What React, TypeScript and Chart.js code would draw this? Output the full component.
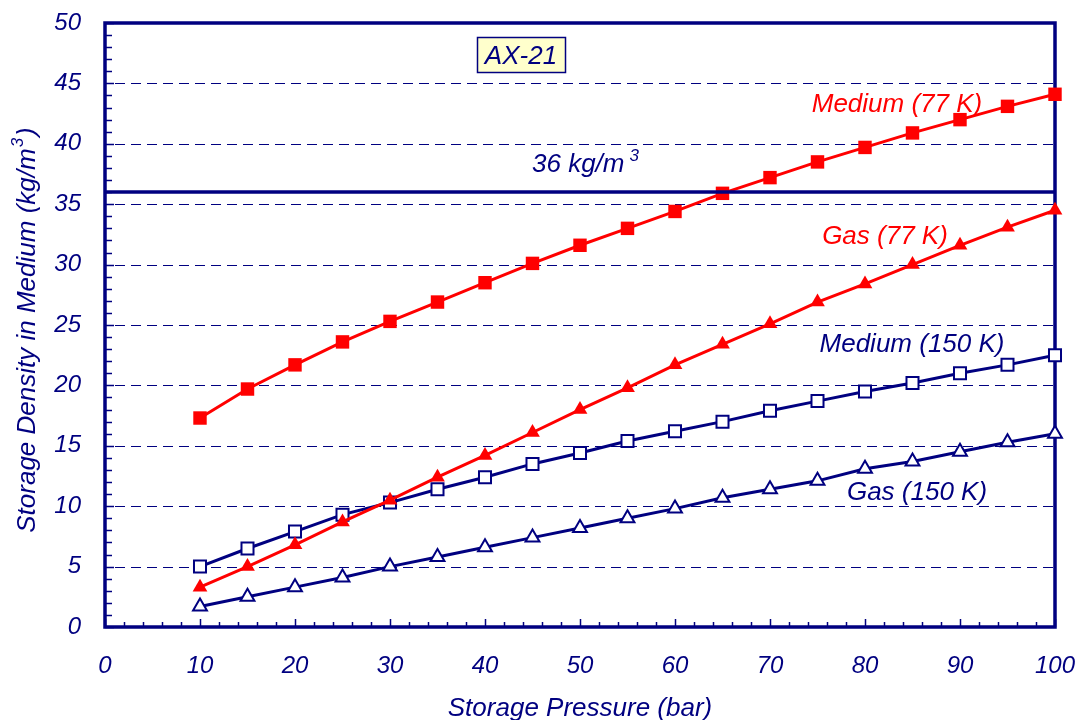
import React, { useEffect, useRef } from "react";
import { Chart, registerables } from "chart.js";

Chart.register(...registerables);

// ---- data ----
const pressures = [10, 15, 20, 25, 30, 35, 40, 45, 50, 55, 60, 65, 70, 75, 80, 85, 90, 95, 100];
const medium77 = [17.3, 19.7, 21.7, 23.6, 25.3, 26.9, 28.5, 30.1, 31.6, 33.0, 34.4, 35.9, 37.2, 38.5, 39.7, 40.9, 42.0, 43.1, 44.1];
const gas77 = [3.3, 5.0, 6.8, 8.7, 10.5, 12.4, 14.2, 16.1, 18.0, 19.8, 21.7, 23.4, 25.1, 26.9, 28.4, 30.0, 31.6, 33.1, 34.5];
const medium150 = [5.0, 6.5, 7.9, 9.3, 10.3, 11.4, 12.4, 13.5, 14.4, 15.4, 16.2, 17.0, 17.9, 18.7, 19.5, 20.2, 21.0, 21.7, 22.5];
const gas150 = [1.7, 2.5, 3.3, 4.1, 5.0, 5.8, 6.6, 7.4, 8.2, 9.0, 9.8, 10.7, 11.4, 12.1, 13.1, 13.7, 14.5, 15.3, 16.0];
const targetDensity = 36;
const targetRange = [0, 100];

const seriesNames = ["Medium (77 K)", "Gas (77 K)", "Medium (150 K)", "Gas (150 K)"];
const materialLabel = "AX-21";
const targetLabel = "36 kg/m";
const xTitle = "Storage Pressure (bar)";
const yTitle = "Storage Density in Medium (kg/m";

const xMin = 0, xMax = 100, xStep = 10;
const yMin = 0, yMax = 50, yStep = 5;

const NAVY = "#000080";
const RED = "#ff0000";
const FONT = "'Liberation Sans', Arial, Helvetica, sans-serif";

const toXY = (vals: number[]) => vals.map((v, i) => ({ x: pressures[i], y: v }));

const decor = {
  id: "decor",
  beforeDatasetsDraw(chart: any) {
    const { ctx, chartArea: a, scales } = chart;
    const x = scales.x, y = scales.y;
    ctx.save();
    // dashed horizontal grid
    ctx.strokeStyle = NAVY;
    ctx.lineWidth = 1;
    ctx.setLineDash([10, 6]);
    for (let v = yMin + yStep; v < yMax; v += yStep) {
      const py = Math.round(y.getPixelForValue(v)) + 0.5;
      ctx.beginPath();
      ctx.moveTo(a.left + 10, py);
      ctx.lineTo(a.right, py);
      ctx.stroke();
    }
    ctx.setLineDash([]);
    // inward ticks on left axis
    ctx.lineWidth = 1.5;
    for (let v = yMin; v <= yMax; v += 1) {
      const py = Math.round(y.getPixelForValue(v)) + 0.5;
      const len = v % yStep === 0 ? 9 : 7;
      ctx.beginPath();
      ctx.moveTo(a.left, py);
      ctx.lineTo(a.left + len, py);
      ctx.stroke();
    }
    // inward ticks on bottom axis
    for (let v = xMin; v <= xMax; v += 2) {
      const px = Math.round(x.getPixelForValue(v)) + 0.5;
      const len = v % xStep === 0 ? 8 : 5;
      ctx.beginPath();
      ctx.moveTo(px, a.bottom);
      ctx.lineTo(px, a.bottom - len);
      ctx.stroke();
    }
    // frame
    ctx.lineWidth = 3.5;
    ctx.strokeRect(a.left, a.top, a.right - a.left, a.bottom - a.top);

    // AX-21 box
    ctx.fillStyle = "#ffffcc";
    ctx.fillRect(477, 37, 89, 36);
    ctx.lineWidth = 1.5;
    ctx.strokeStyle = NAVY;
    ctx.strokeRect(477.5, 37.5, 88, 35);
    ctx.fillStyle = NAVY;
    ctx.font = `italic 26px ${FONT}`;
    ctx.textAlign = "center";
    ctx.textBaseline = "alphabetic";
    ctx.fillText(materialLabel, 521, 64);
    ctx.restore();
  },
  afterDatasetsDraw(chart: any) {
    const { ctx, chartArea: a } = chart;
    ctx.save();
    ctx.textBaseline = "alphabetic";
    ctx.font = `italic 26px ${FONT}`;
    // 36 kg/m3
    ctx.fillStyle = NAVY;
    ctx.textAlign = "left";
    ctx.fillText(targetLabel, 532, 172);
    const w = ctx.measureText(targetLabel).width;
    ctx.font = `italic 17px ${FONT}`;
    ctx.fillText("3", 532 + w + 5, 161);
    // series labels
    ctx.font = `italic 26px ${FONT}`;
    ctx.textAlign = "center";
    ctx.fillStyle = RED;
    ctx.fillText(seriesNames[0], 897, 112);
    ctx.fillText(seriesNames[1], 885, 244);
    ctx.fillStyle = NAVY;
    ctx.fillText(seriesNames[2], 912, 352);
    ctx.fillText(seriesNames[3], 917, 500);
    // x title
    ctx.fillText(xTitle, (a.left + a.right) / 2, 716);
    // y title (rotated, with superscript)
    ctx.translate(28, 330);
    ctx.rotate(-Math.PI / 2);
    ctx.textAlign = "left";
    ctx.textBaseline = "middle";
    ctx.font = `italic 26px ${FONT}`;
    const w1 = ctx.measureText(yTitle).width;
    const w3 = ctx.measureText(")").width;
    ctx.font = `italic 17px ${FONT}`;
    const w2 = ctx.measureText("3").width + 3;
    const total = w1 + w2 + w3;
    let sx = -total / 2;
    ctx.font = `italic 26px ${FONT}`;
    ctx.fillText(yTitle, sx, 0);
    sx += w1;
    ctx.font = `italic 17px ${FONT}`;
    ctx.fillText("3", sx + 1, -10);
    sx += w2;
    ctx.font = `italic 26px ${FONT}`;
    ctx.fillText(")", sx, 0);
    ctx.restore();
  },
};

export default function App() {
  const ref = useRef<HTMLCanvasElement | null>(null);
  useEffect(() => {
    if (!ref.current) return;
    const chart = new Chart(ref.current, {
      type: "line",
      data: {
        datasets: [
          {
            label: "36 kg/m3",
            data: targetRange.map((p) => ({ x: p, y: targetDensity })),
            borderColor: NAVY,
            borderWidth: 3.5,
            pointRadius: 0,
            clip: false,
          },
          {
            label: seriesNames[0],
            data: toXY(medium77),
            borderColor: RED,
            backgroundColor: RED,
            borderWidth: 3,
            pointStyle: "rect",
            pointRadius: 9.5,
            pointBorderWidth: 0,
            pointBackgroundColor: RED,
            clip: false,
          },
          {
            label: seriesNames[1],
            data: toXY(gas77),
            borderColor: RED,
            backgroundColor: RED,
            borderWidth: 3,
            pointStyle: "triangle",
            pointRadius: 8.5,
            pointBorderWidth: 0,
            pointBackgroundColor: RED,
            clip: false,
          },
          {
            label: seriesNames[2],
            data: toXY(medium150),
            borderColor: NAVY,
            borderWidth: 3,
            pointStyle: "rect",
            pointRadius: 8.5,
            pointBorderWidth: 2,
            pointBorderColor: NAVY,
            pointBackgroundColor: "#ffffff",
            clip: false,
          },
          {
            label: seriesNames[3],
            data: toXY(gas150),
            borderColor: NAVY,
            borderWidth: 3,
            pointStyle: "triangle",
            pointRadius: 8,
            pointBorderWidth: 2,
            pointBorderColor: NAVY,
            pointBackgroundColor: "#ffffff",
            clip: false,
          },
        ],
      },
      options: {
        animation: false,
        responsive: false,
        layout: { padding: { top: 23, right: 22, left: 0, bottom: 0 } },
        plugins: { legend: { display: false }, tooltip: { enabled: false } },
        elements: { line: { tension: 0 } },
        scales: {
          x: {
            type: "linear",
            min: xMin,
            max: xMax,
            grid: { display: false, drawTicks: false },
            border: { display: false },
            ticks: {
              stepSize: xStep,
              color: NAVY,
              padding: 25,
              maxRotation: 0,
              font: { family: FONT, size: 24, style: "italic" },
            },
            afterFit: (s: any) => {
              s.height = 93;
              s.paddingLeft = 0;
              s.paddingRight = 0;
            },
          },
          y: {
            type: "linear",
            min: yMin,
            max: yMax,
            grid: { display: false, drawTicks: false },
            border: { display: false },
            ticks: {
              stepSize: yStep,
              color: NAVY,
              padding: 24,
              font: { family: FONT, size: 24, style: "italic" },
            },
            afterFit: (s: any) => {
              s.width = 105;
              s.paddingTop = 0;
              s.paddingBottom = 0;
            },
          },
        },
      },
      plugins: [decor],
    } as any);
    return () => chart.destroy();
  }, []);
  return (
    <div style={{ position: "absolute", left: 0, top: 0, width: 1077, height: 720, background: "#fff" }}>
      <canvas ref={ref} width={1077} height={720} style={{ display: "block" }} />
    </div>
  );
}
